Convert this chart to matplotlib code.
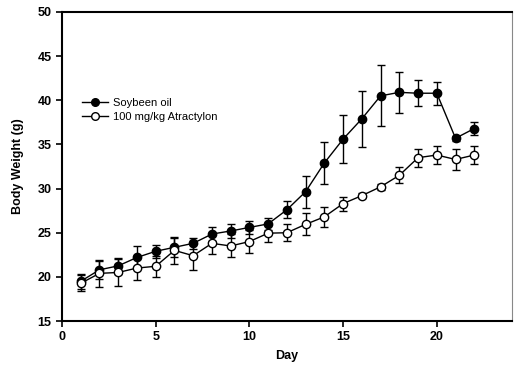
import matplotlib
matplotlib.use('Agg')
import matplotlib.pyplot as plt
from matplotlib.lines import Line2D

plt.rcParams['font.family'] = ['Liberation Sans', 'DejaVu Sans']

days = list(range(1, 23))

soy = [19.5, 20.8, 21.25, 22.2, 22.9, 23.35, 23.8, 24.85, 25.2, 25.6, 26.0,
       27.6, 29.65, 32.9, 35.6, 37.9, 40.5, 40.9, 40.8, 40.8, 35.7, 36.8]
soy_err = [0.85, 1.0, 0.9, 1.25, 0.75, 1.1, 0.6, 0.8, 0.75, 0.75, 0.7,
           0.95, 1.8, 2.35, 2.7, 3.15, 3.45, 2.35, 1.5, 1.3, 0.3, 0.75]

atr = [19.27, 20.4, 20.5, 21.0, 21.2, 23.0, 22.4, 23.8, 23.5, 24.0, 24.95,
       25.0, 25.95, 26.8, 28.3, 29.2, 30.2, 31.5, 33.5, 33.8, 33.3, 33.8]
atr_err = [0.9, 1.5, 1.5, 1.4, 1.2, 1.5, 1.6, 1.2, 1.3, 1.3, 1.0,
           0.95, 1.25, 1.1, 0.8, 0.3, 0.35, 0.9, 1.0, 1.0, 1.2, 1.0]

fig = plt.figure(figsize=(5.14, 3.69), dpi=100)
ax = fig.add_axes([0.1206, 0.130, 0.875, 0.8375])

ax.errorbar(days, soy, yerr=soy_err, fmt='-o', color='black', mfc='black',
            mec='black', ms=6, lw=1, elinewidth=1, capsize=3, capthick=1,
            zorder=3)
ax.errorbar(days, atr, yerr=atr_err, fmt='-o', color='black', mfc='white',
            mec='black', ms=6, lw=1, elinewidth=1, capsize=3, capthick=1,
            zorder=3)

ax.set_xlim(0, 24)
ax.set_ylim(15, 50)
ax.set_xticks([0, 5, 10, 15, 20])
ax.set_yticks([15, 20, 25, 30, 35, 40, 45, 50])

for s in ['left', 'bottom', 'top']:
    ax.spines[s].set_linewidth(1.5)
ax.spines['right'].set_linewidth(0.8)
ax.spines['right'].set_color('#888888')

ax.tick_params(direction='out', length=4, width=1.2, labelsize=9)
for lab in ax.get_xticklabels() + ax.get_yticklabels():
    lab.set_fontweight('bold')

ax.set_xlabel('Day', fontsize=9, fontweight='bold', labelpad=5)
ax.set_ylabel('Body Weight (g)', fontsize=9, fontweight='bold', labelpad=10)

# legend shows marker+line only, no error bars
handles = [Line2D([], [], color='black', marker='o', mfc='black', ms=5.5, lw=1),
           Line2D([], [], color='black', marker='o', mfc='white', ms=5.5, lw=1)]
labels = ['Soybeen oil', '100 mg/kg Atractylon']
ax.legend(handles, labels, loc='upper left', bbox_to_anchor=(0.035, 0.735),
          frameon=False, fontsize=8, handlelength=2.3, handletextpad=0.5,
          labelspacing=0.35, borderaxespad=0)

plt.savefig('out.png', dpi=100)
